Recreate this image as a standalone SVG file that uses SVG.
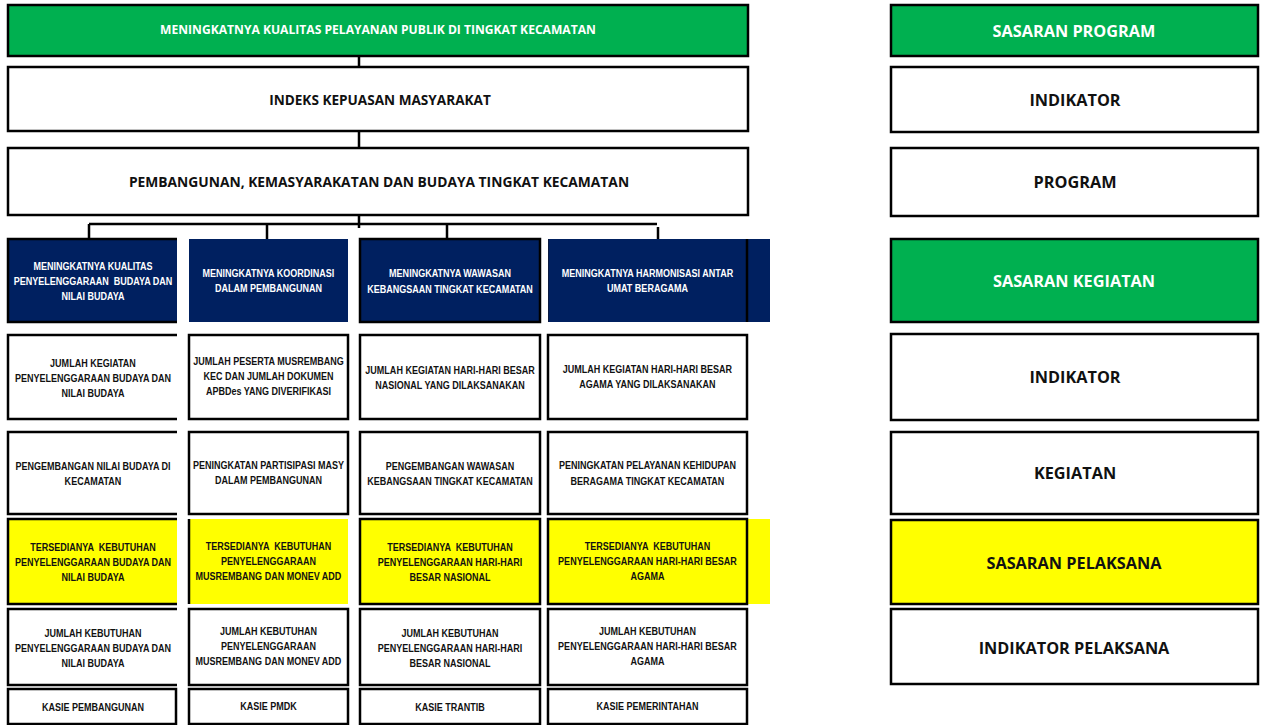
<svg xmlns="http://www.w3.org/2000/svg" width="1266" height="725" viewBox="0 0 1266 725">
<style>
.bx{stroke:#000;stroke-width:2.5}
.nb{stroke:none}
.ln{fill:none;stroke:#000;stroke-width:2.5}
.g{fill:#00B050}
.w{fill:#fff}
.n{fill:#002060}
.y{fill:#FFFF00}
.s{font-family:"Liberation Sans",Arial,sans-serif;font-weight:bold;font-size:11px;text-anchor:middle;fill:#111;white-space:pre}
.sw{fill:#fff}
.c{font-family:"Open Sans","Noto Sans",sans-serif;font-weight:bold;text-anchor:middle;fill:#111}
.cw{fill:#fff}
</style>
<rect x="0" y="0" width="1266" height="725" fill="#fff"/>
<g id="connectors">
<path class="ln" d="M359 56V67M359 131V148M359 215V228" stroke-width="3.5"/>
<path class="ln" d="M89 224H657M89 224V239M267 224V239M447 224V239"/>
<path class="ln" d="M658 227V239" stroke-width="3.5"/>
</g>
<g id="top-sasaran">
<rect class="g bx" x="8" y="5" width="740" height="51"/>
<text class="c cw" x="378" y="34" font-size="12.1">MENINGKATNYA KUALITAS PELAYANAN PUBLIK DI TINGKAT KECAMATAN</text>
</g>
<g id="top-indikator">
<rect class="w bx" x="8" y="67" width="740" height="64"/>
<text class="c" x="380" y="105" font-size="13.6">INDEKS KEPUASAN MASYARAKAT</text>
</g>
<g id="top-program">
<rect class="w bx" x="8" y="148" width="740" height="67"/>
<text class="c" x="379" y="187" font-size="13.8">PEMBANGUNAN, KEMASYARAKATAN DAN BUDAYA TINGKAT KECAMATAN</text>
</g>
<!-- column 1 -->
<g id="c1-sasaran">
<rect class="n nb" x="8" y="239" width="169" height="83"/>
<path class="ln" d="M177 239H8V322H177"/>
<g transform="scale(0.82 1)">
<text class="s sw" x="113.4" y="270">MENINGKATNYA KUALITAS</text>
<text class="s sw" x="113.4" y="285">PENYELENGGARAAN  BUDAYA DAN</text>
<text class="s sw" x="113.4" y="300">NILAI BUDAYA</text>
</g>
</g>
<g id="c1-indikator">
<rect class="w nb" x="8" y="335" width="169" height="84"/>
<path class="ln" d="M177 335H8V419H177"/>
<g transform="scale(0.82 1)">
<text class="s" x="113.4" y="367">JUMLAH KEGIATAN</text>
<text class="s" x="113.4" y="382">PENYELENGGARAAN BUDAYA DAN</text>
<text class="s" x="113.4" y="397">NILAI BUDAYA</text>
</g>
</g>
<g id="c1-kegiatan">
<rect class="w nb" x="8" y="432" width="169" height="82"/>
<path class="ln" d="M177 432H8V514H177"/>
<g transform="scale(0.82 1)">
<text class="s" x="113.4" y="470">PENGEMBANGAN NILAI BUDAYA DI</text>
<text class="s" x="113.4" y="485">KECAMATAN</text>
</g>
</g>
<g id="c1-pelaksana">
<rect class="y nb" x="8" y="519" width="169" height="85"/>
<path class="ln" d="M177 519H8V604H177"/>
<g transform="scale(0.82 1)">
<text class="s" x="113.4" y="551">TERSEDIANYA  KEBUTUHAN</text>
<text class="s" x="113.4" y="566">PENYELENGGARAAN BUDAYA DAN</text>
<text class="s" x="113.4" y="581">NILAI BUDAYA</text>
</g>
</g>
<g id="c1-indpel">
<rect class="w nb" x="8" y="609" width="169" height="76"/>
<path class="ln" d="M177 609H8V685H177"/>
<g transform="scale(0.82 1)">
<text class="s" x="113.4" y="637">JUMLAH KEBUTUHAN</text>
<text class="s" x="113.4" y="652">PENYELENGGARAAN BUDAYA DAN</text>
<text class="s" x="113.4" y="667">NILAI BUDAYA</text>
</g>
</g>
<g id="c1-kasie">
<rect class="w bx" x="8" y="689" width="168" height="35"/>
<g transform="scale(0.82 1)">
<text class="s" x="113.4" y="711">KASIE PEMBANGUNAN</text>
</g>
</g>
<!-- column 2 -->
<g id="c2-sasaran">
<rect class="n nb" x="189" y="239" width="159" height="83"/>
<g transform="scale(0.82 1)">
<text class="s sw" x="327.4" y="277">MENINGKATNYA KOORDINASI</text>
<text class="s sw" x="327.4" y="292">DALAM PEMBANGUNAN</text>
</g>
</g>
<g id="c2-indikator">
<rect class="w bx" x="189" y="335" width="159" height="84"/>
<g transform="scale(0.82 1)">
<text class="s" x="327.4" y="365">JUMLAH PESERTA MUSREMBANG</text>
<text class="s" x="327.4" y="380">KEC DAN JUMLAH DOKUMEN</text>
<text class="s" x="327.4" y="395">APBDes YANG DIVERIFIKASI</text>
</g>
</g>
<g id="c2-kegiatan">
<rect class="w bx" x="189" y="432" width="159" height="82"/>
<g transform="scale(0.82 1)">
<text class="s" x="327.4" y="469">PENINGKATAN PARTISIPASI MASY</text>
<text class="s" x="327.4" y="484">DALAM PEMBANGUNAN</text>
</g>
</g>
<g id="c2-pelaksana">
<rect class="y nb" x="189" y="519" width="159" height="85"/>
<path class="ln" d="M189 519V604"/>
<g transform="scale(0.82 1)">
<text class="s" x="327.4" y="550">TERSEDIANYA  KEBUTUHAN</text>
<text class="s" x="327.4" y="565">PENYELENGGARAAN</text>
<text class="s" x="327.4" y="580">MUSREMBANG DAN MONEV ADD</text>
</g>
</g>
<g id="c2-indpel">
<rect class="w bx" x="189" y="609" width="159" height="76"/>
<g transform="scale(0.82 1)">
<text class="s" x="327.4" y="635">JUMLAH KEBUTUHAN</text>
<text class="s" x="327.4" y="650">PENYELENGGARAAN</text>
<text class="s" x="327.4" y="665">MUSREMBANG DAN MONEV ADD</text>
</g>
</g>
<g id="c2-kasie">
<rect class="w bx" x="189" y="689" width="159" height="35"/>
<g transform="scale(0.82 1)">
<text class="s" x="327.4" y="710">KASIE PMDK</text>
</g>
</g>
<!-- column 3 -->
<g id="c3-sasaran">
<rect class="n bx" x="360" y="239" width="180" height="83"/>
<g transform="scale(0.82 1)">
<text class="s sw" x="548.8" y="277">MENINGKATNYA WAWASAN</text>
<text class="s sw" x="548.8" y="293">KEBANGSAAN TINGKAT KECAMATAN</text>
</g>
</g>
<g id="c3-indikator">
<rect class="w bx" x="360" y="335" width="180" height="84"/>
<g transform="scale(0.82 1)">
<text class="s" x="548.8" y="374">JUMLAH KEGIATAN HARI-HARI BESAR</text>
<text class="s" x="548.8" y="389">NASIONAL YANG DILAKSANAKAN</text>
</g>
</g>
<g id="c3-kegiatan">
<rect class="w bx" x="360" y="432" width="180" height="82"/>
<g transform="scale(0.82 1)">
<text class="s" x="548.8" y="470">PENGEMBANGAN WAWASAN</text>
<text class="s" x="548.8" y="485">KEBANGSAAN TINGKAT KECAMATAN</text>
</g>
</g>
<g id="c3-pelaksana">
<rect class="y bx" x="360" y="519" width="180" height="85"/>
<g transform="scale(0.82 1)">
<text class="s" x="548.8" y="551">TERSEDIANYA  KEBUTUHAN</text>
<text class="s" x="548.8" y="566">PENYELENGGARAAN HARI-HARI</text>
<text class="s" x="548.8" y="581">BESAR NASIONAL</text>
</g>
</g>
<g id="c3-indpel">
<rect class="w bx" x="360" y="609" width="180" height="76"/>
<g transform="scale(0.82 1)">
<text class="s" x="548.8" y="637">JUMLAH KEBUTUHAN</text>
<text class="s" x="548.8" y="652">PENYELENGGARAAN HARI-HARI</text>
<text class="s" x="548.8" y="667">BESAR NASIONAL</text>
</g>
</g>
<g id="c3-kasie">
<rect class="w bx" x="360" y="689" width="180" height="35"/>
<g transform="scale(0.82 1)">
<text class="s" x="548.8" y="711">KASIE TRANTIB</text>
</g>
</g>
<!-- column 4 -->
<g id="c4-sasaran">
<rect class="n nb" x="548" y="239" width="222" height="83"/>
<path class="ln" d="M747 239V322" stroke-width="2"/>
<path d="M548.5 239V322" stroke="#0a1a40" stroke-width="1"/>
<g transform="scale(0.82 1)">
<text class="s sw" x="789.6" y="277">MENINGKATNYA HARMONISASI ANTAR</text>
<text class="s sw" x="789.6" y="292">UMAT BERAGAMA</text>
</g>
</g>
<g id="c4-indikator">
<rect class="w bx" x="548" y="335" width="199" height="84"/>
<g transform="scale(0.82 1)">
<text class="s" x="789.6" y="373">JUMLAH KEGIATAN HARI-HARI BESAR</text>
<text class="s" x="789.6" y="388">AGAMA YANG DILAKSANAKAN</text>
</g>
</g>
<g id="c4-kegiatan">
<rect class="w bx" x="548" y="432" width="199" height="82"/>
<g transform="scale(0.82 1)">
<text class="s" x="789.6" y="469">PENINGKATAN PELAYANAN KEHIDUPAN</text>
<text class="s" x="789.6" y="485">BERAGAMA TINGKAT KECAMATAN</text>
</g>
</g>
<g id="c4-pelaksana">
<rect class="y nb" x="548" y="519" width="222" height="85"/>
<rect class="y bx" x="548" y="519" width="199" height="85"/>
<g transform="scale(0.82 1)">
<text class="s" x="789.6" y="550">TERSEDIANYA  KEBUTUHAN</text>
<text class="s" x="789.6" y="565">PENYELENGGARAAN HARI-HARI BESAR</text>
<text class="s" x="789.6" y="580">AGAMA</text>
</g>
</g>
<g id="c4-indpel">
<rect class="w bx" x="548" y="609" width="199" height="76"/>
<g transform="scale(0.82 1)">
<text class="s" x="789.6" y="635">JUMLAH KEBUTUHAN</text>
<text class="s" x="789.6" y="650">PENYELENGGARAAN HARI-HARI BESAR</text>
<text class="s" x="789.6" y="665">AGAMA</text>
</g>
</g>
<g id="c4-kasie">
<rect class="w bx" x="548" y="689" width="199" height="35"/>
<g transform="scale(0.82 1)">
<text class="s" x="789.6" y="710">KASIE PEMERINTAHAN</text>
</g>
</g>
<!-- legend -->
<g id="lg-sasaran-program">
<rect class="g bx" x="891" y="5" width="367" height="51"/>
<text class="c cw" x="1074" y="37" font-size="16.3">SASARAN PROGRAM</text>
</g>
<g id="lg-indikator">
<rect class="w bx" x="891" y="67" width="367" height="65"/>
<text class="c" x="1075" y="106" font-size="16.3">INDIKATOR</text>
</g>
<g id="lg-program">
<rect class="w bx" x="891" y="148" width="367" height="68"/>
<text class="c" x="1075" y="188" font-size="16.3">PROGRAM</text>
</g>
<g id="lg-sasaran-kegiatan">
<rect class="g bx" x="891" y="239" width="367" height="83"/>
<text class="c cw" x="1074" y="287" font-size="16.3">SASARAN KEGIATAN</text>
</g>
<g id="lg-indikator2">
<rect class="w bx" x="891" y="334" width="367" height="86"/>
<text class="c" x="1075" y="383" font-size="16.3">INDIKATOR</text>
</g>
<g id="lg-kegiatan">
<rect class="w bx" x="891" y="432" width="367" height="82"/>
<text class="c" x="1075" y="479" font-size="16.3">KEGIATAN</text>
</g>
<g id="lg-sasaran-pelaksana">
<rect class="y bx" x="891" y="520" width="367" height="84"/>
<text class="c" x="1074" y="569" font-size="16.3">SASARAN PELAKSANA</text>
</g>
<g id="lg-indikator-pelaksana">
<rect class="w bx" x="891" y="609" width="367" height="75"/>
<text class="c" x="1074" y="654" font-size="16.3">INDIKATOR PELAKSANA</text>
</g>
</svg>
